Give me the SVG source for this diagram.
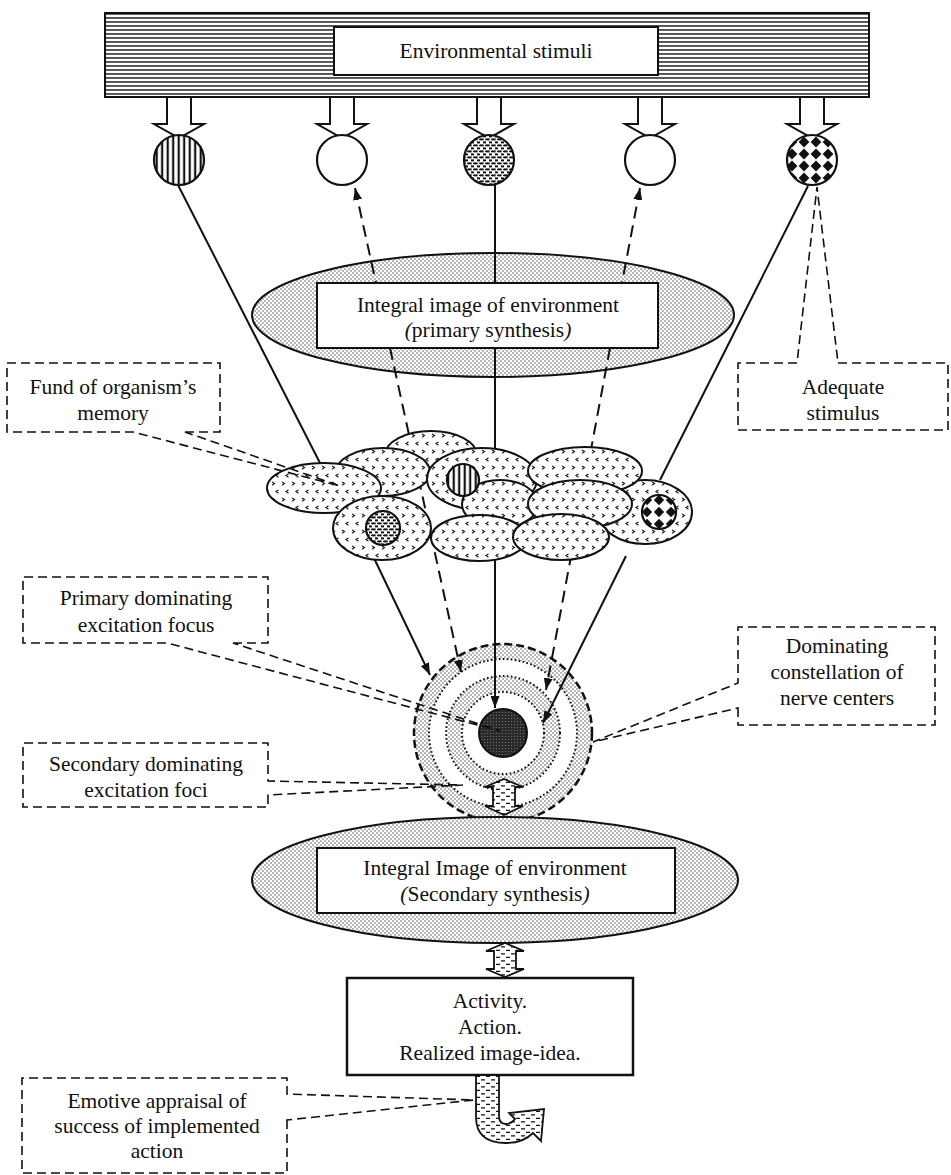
<svg xmlns="http://www.w3.org/2000/svg" width="951" height="1175" viewBox="0 0 951 1175">
<defs>
<style>
text{font-family:"Liberation Serif","Times New Roman",serif;font-size:21.5px;fill:#111;text-anchor:middle}
.box{fill:#fff;stroke:#111;stroke-width:2}
.call{fill:none;stroke:#111;stroke-width:1.6;stroke-dasharray:9 5}
.ln{fill:none;stroke:#111;stroke-width:2}
.dl{fill:none;stroke:#111;stroke-width:2;stroke-dasharray:12 7}
.cl{fill:url(#chev);stroke:#111;stroke-width:2}
.stip{fill:url(#dots);stroke:#111;stroke-width:2}
.blk{fill:#fff;stroke:#111;stroke-width:2;stroke-linejoin:miter}
.dsh{fill:url(#dsh);stroke:#111;stroke-width:1.8;stroke-linejoin:miter}
.stim{stroke:#111;stroke-width:2.2}
.ring{fill:none;stroke:#111;stroke-width:2;stroke-dasharray:1.6 2.4}
</style>
<pattern id="hstripe" width="8" height="4" patternUnits="userSpaceOnUse"><rect width="8" height="4" fill="#fff"/><rect y="1.2" width="8" height="1.5" fill="#222"/></pattern>
<pattern id="vstripe" width="5.5" height="8" patternUnits="userSpaceOnUse"><rect width="5.5" height="8" fill="#fff"/><rect x="1.6" width="2.2" height="8" fill="#111"/></pattern>
<pattern id="dots" width="4" height="4" patternUnits="userSpaceOnUse"><rect width="4" height="4" fill="#fff"/><circle cx="1" cy="1" r="0.65" fill="#333"/><circle cx="3" cy="3" r="0.65" fill="#333"/></pattern>
<pattern id="mottle" width="6" height="6" patternUnits="userSpaceOnUse"><rect width="6" height="6" fill="#fff"/><rect x="0" y="0.4" width="3.6" height="2" fill="#111"/><rect x="3" y="3.4" width="3.6" height="2" fill="#111"/><rect x="5" y="0.8" width="1" height="1.2" fill="#111"/></pattern>
<pattern id="diam" width="12" height="12" patternUnits="userSpaceOnUse" x="6" y="4"><rect width="12" height="12" fill="#fff"/><path d="M6,0.6 L11.4,6 L6,11.4 L0.6,6Z" fill="#111"/></pattern>
<pattern id="diam2" width="12" height="12" patternUnits="userSpaceOnUse" x="653" y="506"><rect width="12" height="12" fill="#fff"/><path d="M6,0.8 L11.2,6 L6,11.2 L0.8,6Z" fill="#111"/></pattern>
<pattern id="chev" width="10" height="16" patternUnits="userSpaceOnUse"><rect width="10" height="16" fill="#fff"/><path d="M2,2 L4.5,3.6 L2,5.2 M8.5,10 L6,11.6 L8.5,13.2" fill="none" stroke="#111" stroke-width="1.1"/></pattern>
<pattern id="dsh" width="10" height="7" patternUnits="userSpaceOnUse"><rect width="10" height="7" fill="#fff"/><path d="M1,1.8 H5 M6,5.3 H10" stroke="#111" stroke-width="1.3"/></pattern>
<pattern id="dark" width="3" height="3" patternUnits="userSpaceOnUse"><rect width="3" height="3" fill="#2a2a2a"/><circle cx="1.5" cy="1.5" r="0.6" fill="#777"/></pattern>
<marker id="ah" viewBox="0 0 12 9" refX="12" refY="4.5" markerWidth="12" markerHeight="9" markerUnits="userSpaceOnUse" orient="auto-start-reverse"><path d="M0,0 L12,4.5 L0,9Z" fill="#111"/></marker>
</defs>
<rect width="951" height="1175" fill="#fff"/>

<g id="environmental-stimuli">
<rect x="105" y="13" width="764" height="84" fill="url(#hstripe)" stroke="#111" stroke-width="2"/>
<rect class="box" x="334" y="27" width="324" height="48"/>
<text x="496" y="58">Environmental stimuli</text>
</g>

<g id="primary-synthesis">
<ellipse class="stip" cx="493" cy="315" rx="241" ry="62"/>
<rect class="box" x="317" y="283" width="341" height="65"/>
<text x="488" y="312">Integral image of environment</text>
<text x="488" y="337"><tspan font-style="italic">(</tspan>primary synthesis<tspan font-style="italic">)</tspan></text>
</g>

<g id="dominating-constellation-rings">
<circle cx="503" cy="733" r="89" fill="url(#dots)"/>
<circle cx="503" cy="733" r="74" fill="#fff"/>
<circle cx="503" cy="733" r="57" fill="url(#dots)"/>
<circle cx="503" cy="733" r="41" fill="#fff"/>
<circle cx="503" cy="733" r="89" fill="none" stroke="#111" stroke-width="2.5" stroke-dasharray="8 4"/>
<circle class="ring" cx="503" cy="733" r="74"/>
<circle class="ring" cx="503" cy="733" r="57"/>
<circle class="ring" cx="503" cy="733" r="41"/>
<circle cx="503" cy="733" r="24" fill="url(#dark)" stroke="#111" stroke-width="2"/>
</g>

<g id="secondary-synthesis">
<ellipse class="stip" cx="495" cy="880" rx="243" ry="63"/>
<rect class="box" x="317" y="848" width="358" height="65"/>
<text x="495" y="875">Integral Image of environment</text>
<text x="495" y="901"><tspan font-style="italic">(</tspan>Secondary synthesis<tspan font-style="italic">)</tspan></text>
</g>

<g id="activity">
<rect x="347" y="978" width="286" height="97" fill="#fff" stroke="#111" stroke-width="2.5"/>
<text x="490" y="1008">Activity.</text>
<text x="490" y="1034">Action.</text>
<text x="490" y="1060">Realized image-idea.</text>
</g>

<g id="connectors">
<polygon class="blk" points="167,97 191,97 191,124 204,124 179,138 154,124 167,124"/>
<polygon class="blk" points="330,97 354,97 354,124 367,124 342,138 317,124 330,124"/>
<polygon class="blk" points="477,97 501,97 501,124 514,124 489,138 464,124 477,124"/>
<polygon class="blk" points="638,97 662,97 662,124 675,124 650,138 625,124 638,124"/>
<polygon class="blk" points="800,97 824,97 824,124 837,124 812,138 787,124 800,124"/>
<path class="ln" d="M178,185 L320,463 M373,556 L430,675" marker-end="url(#ah)"/>
<path class="dl" d="M355,188 L376,283 M390,348 L461,672" marker-start="url(#ah)" marker-end="url(#ah)"/>
<path class="ln" d="M495,184 V283 M495,348 V708" marker-end="url(#ah)"/>
<path class="dl" d="M640,188 L622,283 M610,348 L546,690" marker-start="url(#ah)" marker-end="url(#ah)"/>
<path class="ln" d="M808,186 L660,480 M626,556 L543,723" marker-end="url(#ah)"/>
<path class="dsh" d="M504,779 L523,787 L515,787 L515,806 L523,806 L504,815 L485,806 L493,806 L493,787 L485,787 Z"/>
<path class="dsh" d="M505,943 L524,951 L516,951 L516,969 L524,969 L505,977 L486,969 L494,969 L494,951 L486,951 Z"/>
<path class="dsh" d="M476,1075 H499 V1116 Q499,1124 506,1124 Q511,1124 515,1119 L509,1113 L544,1109 L541,1141 L533,1133 Q523,1143 506,1143 Q476,1143 476,1117 Z"/>
</g>

<g id="stimulus-1"><circle class="stim" cx="179" cy="160" r="25" fill="url(#vstripe)"/></g>
<g id="stimulus-2"><circle class="stim" cx="342" cy="160" r="25" fill="#fff"/></g>
<g id="stimulus-3"><circle class="stim" cx="489" cy="160" r="25" fill="url(#mottle)"/></g>
<g id="stimulus-4"><circle class="stim" cx="650" cy="160" r="25" fill="#fff"/></g>
<g id="stimulus-5"><circle class="stim" cx="812" cy="160" r="25" fill="url(#diam)"/></g>

<g id="memory-cluster">
<ellipse class="cl" cx="431" cy="455" rx="46" ry="24"/>
<ellipse class="cl" cx="383" cy="472" rx="47" ry="24"/>
<ellipse class="cl" cx="324" cy="488" rx="57" ry="25"/>
<ellipse class="cl" cx="482" cy="479" rx="55" ry="31"/>
<ellipse class="cl" cx="645" cy="512" rx="47" ry="32"/>
<ellipse class="cl" cx="585" cy="471" rx="57" ry="24"/>
<ellipse class="cl" cx="500" cy="504" rx="38" ry="24"/>
<ellipse class="cl" cx="580" cy="504" rx="52" ry="24"/>
<ellipse class="cl" cx="479" cy="538" rx="48" ry="23"/>
<ellipse class="cl" cx="561" cy="537" rx="48" ry="23"/>
<ellipse class="cl" cx="382" cy="528" rx="49" ry="32"/>
<circle class="stim" cx="463" cy="480" r="16" fill="url(#vstripe)"/>
<circle class="stim" cx="383" cy="528" r="17" fill="url(#mottle)"/>
<circle class="stim" cx="659" cy="512" r="17" fill="url(#diam2)"/>
</g>

<g id="fund-of-memory">
<path class="call" d="M185,432 H220 V363 H7 V432 H133 L340,486 Z"/>
<text x="113" y="394">Fund of organism’s</text>
<text x="113" y="420">memory</text>
</g>

<g id="adequate-stimulus">
<path class="call" d="M838,363 H948 V430 H738 V363 H797 L817,187 Z"/>
<text x="843" y="394">Adequate</text>
<text x="843" y="420">stimulus</text>
</g>

<g id="primary-focus">
<path class="call" d="M233,643 H268 V577 H23 V643 H167 L500,731 Z"/>
<text x="146" y="605">Primary dominating</text>
<text x="146" y="632">excitation focus</text>
</g>

<g id="secondary-foci">
<path class="call" d="M268,795 V807 H23 V743 H268 V781 L463,785 Z"/>
<text x="146" y="771">Secondary dominating</text>
<text x="146" y="797">excitation foci</text>
</g>

<g id="dominating-constellation">
<path class="call" d="M738,708 V725 H935 V627 H738 V683 L593,742 Z"/>
<text x="837" y="653">Dominating</text>
<text x="837" y="679">constellation of</text>
<text x="837" y="705">nerve centers</text>
</g>

<g id="emotive-appraisal">
<path class="call" d="M287,1120 V1173 H22 V1078 H287 V1094 L474,1100 Z"/>
<text x="157" y="1108">Emotive appraisal of</text>
<text x="157" y="1133">success of implemented</text>
<text x="157" y="1158">action</text>
</g>
</svg>
